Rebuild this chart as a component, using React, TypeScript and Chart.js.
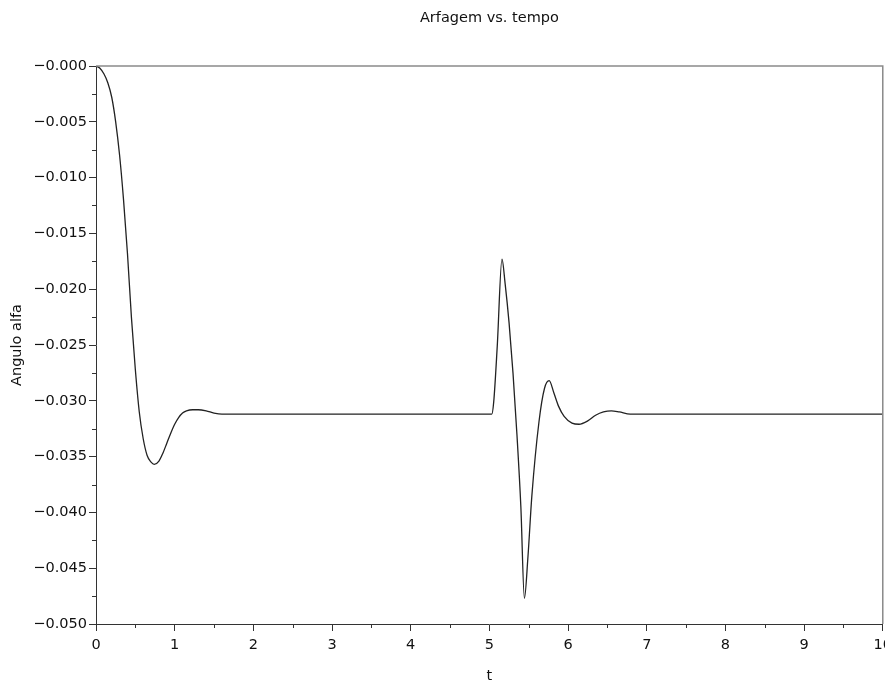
import React, { useEffect, useRef } from "react";
import { Chart, registerables } from "chart.js";

Chart.register(...registerables);

const chartTitle = "Arfagem vs. tempo";
const xTitle = "t";
const yTitle = "Angulo alfa";

const tValues = [
  0, 0.05, 0.1, 0.15, 0.2, 0.25, 0.3, 0.35, 0.4, 0.45, 0.5, 0.55, 0.6, 0.65, 0.7, 0.74, 0.8, 0.85, 0.9, 0.95, 1.0,
  1.05, 1.1, 1.15, 1.23, 1.3, 1.4, 1.5, 1.6, 1.7, 1.8, 3.0, 4.0, 5.0, 5.03, 5.055, 5.1, 5.16, 5.2, 5.25, 5.3, 5.35,
  5.4, 5.445, 5.49, 5.54, 5.63, 5.7, 5.76, 5.82, 5.88, 5.95, 6.05, 6.14, 6.25, 6.35, 6.45, 6.55, 6.65, 6.79, 7.0,
  8.0, 9.0, 10.0,
];

const alphaValues = [
  0, -0.0002, -0.0007, -0.0015, -0.0028, -0.005, -0.008, -0.012, -0.0168, -0.0225, -0.0272, -0.031, -0.0334,
  -0.0349, -0.0355, -0.0357, -0.0354, -0.0347, -0.0338, -0.0329, -0.0321, -0.0315, -0.0311, -0.0309, -0.0308,
  -0.0308, -0.0309, -0.0311, -0.0312, -0.0312, -0.0312, -0.0312, -0.0312, -0.0312, -0.0312, -0.0301, -0.0251,
  -0.0173, -0.0195, -0.023, -0.0275, -0.033, -0.0395, -0.0477, -0.044, -0.0385, -0.0319, -0.0289, -0.0282, -0.0293,
  -0.0305, -0.0314, -0.032, -0.0321, -0.0318, -0.0313, -0.031, -0.0309, -0.031, -0.0312, -0.0312, -0.0312,
  -0.0312, -0.0312,
];

const xMin = 0;
const xMax = 10;
const xStep = 1;
const xMinorStep = 0.5;
const yMin = -0.05;
const yMax = 0;
const yStep = 0.005;
const yMinorStep = 0.0025;

const FONT = "'DejaVu Sans', sans-serif";
const FS = 14.5;

const framePlugin = {
  id: "frameAndMinor",
  afterDraw(chart: any) {
    const { ctx, chartArea } = chart;
    const xs = chart.scales.x;
    const ys = chart.scales.y;
    ctx.save();
    ctx.strokeStyle = "#8a8a8a";
    ctx.lineWidth = 1.5;
    ctx.beginPath();
    ctx.moveTo(chartArea.left, chartArea.top);
    ctx.lineTo(chartArea.right, chartArea.top);
    ctx.lineTo(chartArea.right, chartArea.bottom);
    ctx.stroke();
    ctx.strokeStyle = "#333";
    ctx.lineWidth = 1;
    ctx.beginPath();
    for (let v = xMin + xMinorStep; v < xMax; v += xStep) {
      const px = Math.round(xs.getPixelForValue(v)) + 0.5;
      ctx.moveTo(px, chartArea.bottom);
      ctx.lineTo(px, chartArea.bottom + 4);
    }
    for (let v = yMax - yMinorStep; v > yMin; v -= yStep) {
      const py = Math.round(ys.getPixelForValue(v)) + 0.5;
      ctx.moveTo(chartArea.left, py);
      ctx.lineTo(chartArea.left - 4, py);
    }
    ctx.stroke();
    ctx.restore();
  },
};

export default function App() {
  const canvasRef = useRef<HTMLCanvasElement | null>(null);

  useEffect(() => {
    if (!canvasRef.current) return;
    const chart = new Chart(canvasRef.current, {
      type: "line",
      data: {
        datasets: [
          {
            data: tValues.map((t, i) => ({ x: t, y: alphaValues[i] })),
            borderColor: "#222",
            borderWidth: 1.3,
            pointRadius: 0,
            fill: false,
            cubicInterpolationMode: "monotone",
          },
        ],
      },
      options: {
        animation: false,
        responsive: true,
        maintainAspectRatio: false,
        layout: { padding: 0 },
        plugins: {
          legend: { display: false },
          tooltip: { enabled: false },
          title: {
            display: true,
            text: chartTitle,
            fullSize: false,
            color: "#111",
            font: { family: FONT, size: FS, weight: "normal" },
            padding: { top: 9.3, bottom: 39.3 },
          },
        },
        scales: {
          x: {
            type: "linear",
            min: xMin,
            max: xMax,
            border: { display: true, color: "#333", width: 1 },
            grid: { drawOnChartArea: false, drawTicks: true, tickLength: 7, tickColor: "#333" },
            ticks: {
              stepSize: xStep,
              color: "#111",
              padding: 6,
              maxRotation: 0,
              font: { family: FONT, size: FS },
              callback: (v: any) => String(Math.round(Number(v))),
            },
            title: {
              display: true,
              text: xTitle,
              color: "#111",
              font: { family: FONT, size: FS },
              padding: { top: 7.2, bottom: 0 },
            },
          },
          y: {
            type: "linear",
            min: yMin,
            max: yMax,
            afterFit: (scale: any) => {
              scale.width = 96;
            },
            border: { display: true, color: "#333", width: 1 },
            grid: { drawOnChartArea: false, drawTicks: true, tickLength: 7, tickColor: "#333" },
            ticks: {
              stepSize: yStep,
              color: "#111",
              padding: 2,
              font: { family: FONT, size: FS },
              callback: (v: any) => "\u2212" + Math.abs(Number(v)).toFixed(3),
            },
            title: {
              display: true,
              text: yTitle,
              color: "#111",
              font: { family: FONT, size: FS },
              padding: { top: 9, bottom: 0 },
            },
          },
        },
      },
      plugins: [framePlugin],
    } as any);
    return () => chart.destroy();
  }, []);

  return (
    <div
      style={{
        position: "fixed",
        left: 0,
        top: 0,
        width: 885,
        height: 685,
        overflow: "hidden",
        background: "#fff",
      }}
    >
      <div style={{ position: "relative", width: 898, height: 685 }}>
        <canvas ref={canvasRef} />
      </div>
    </div>
  );
}
